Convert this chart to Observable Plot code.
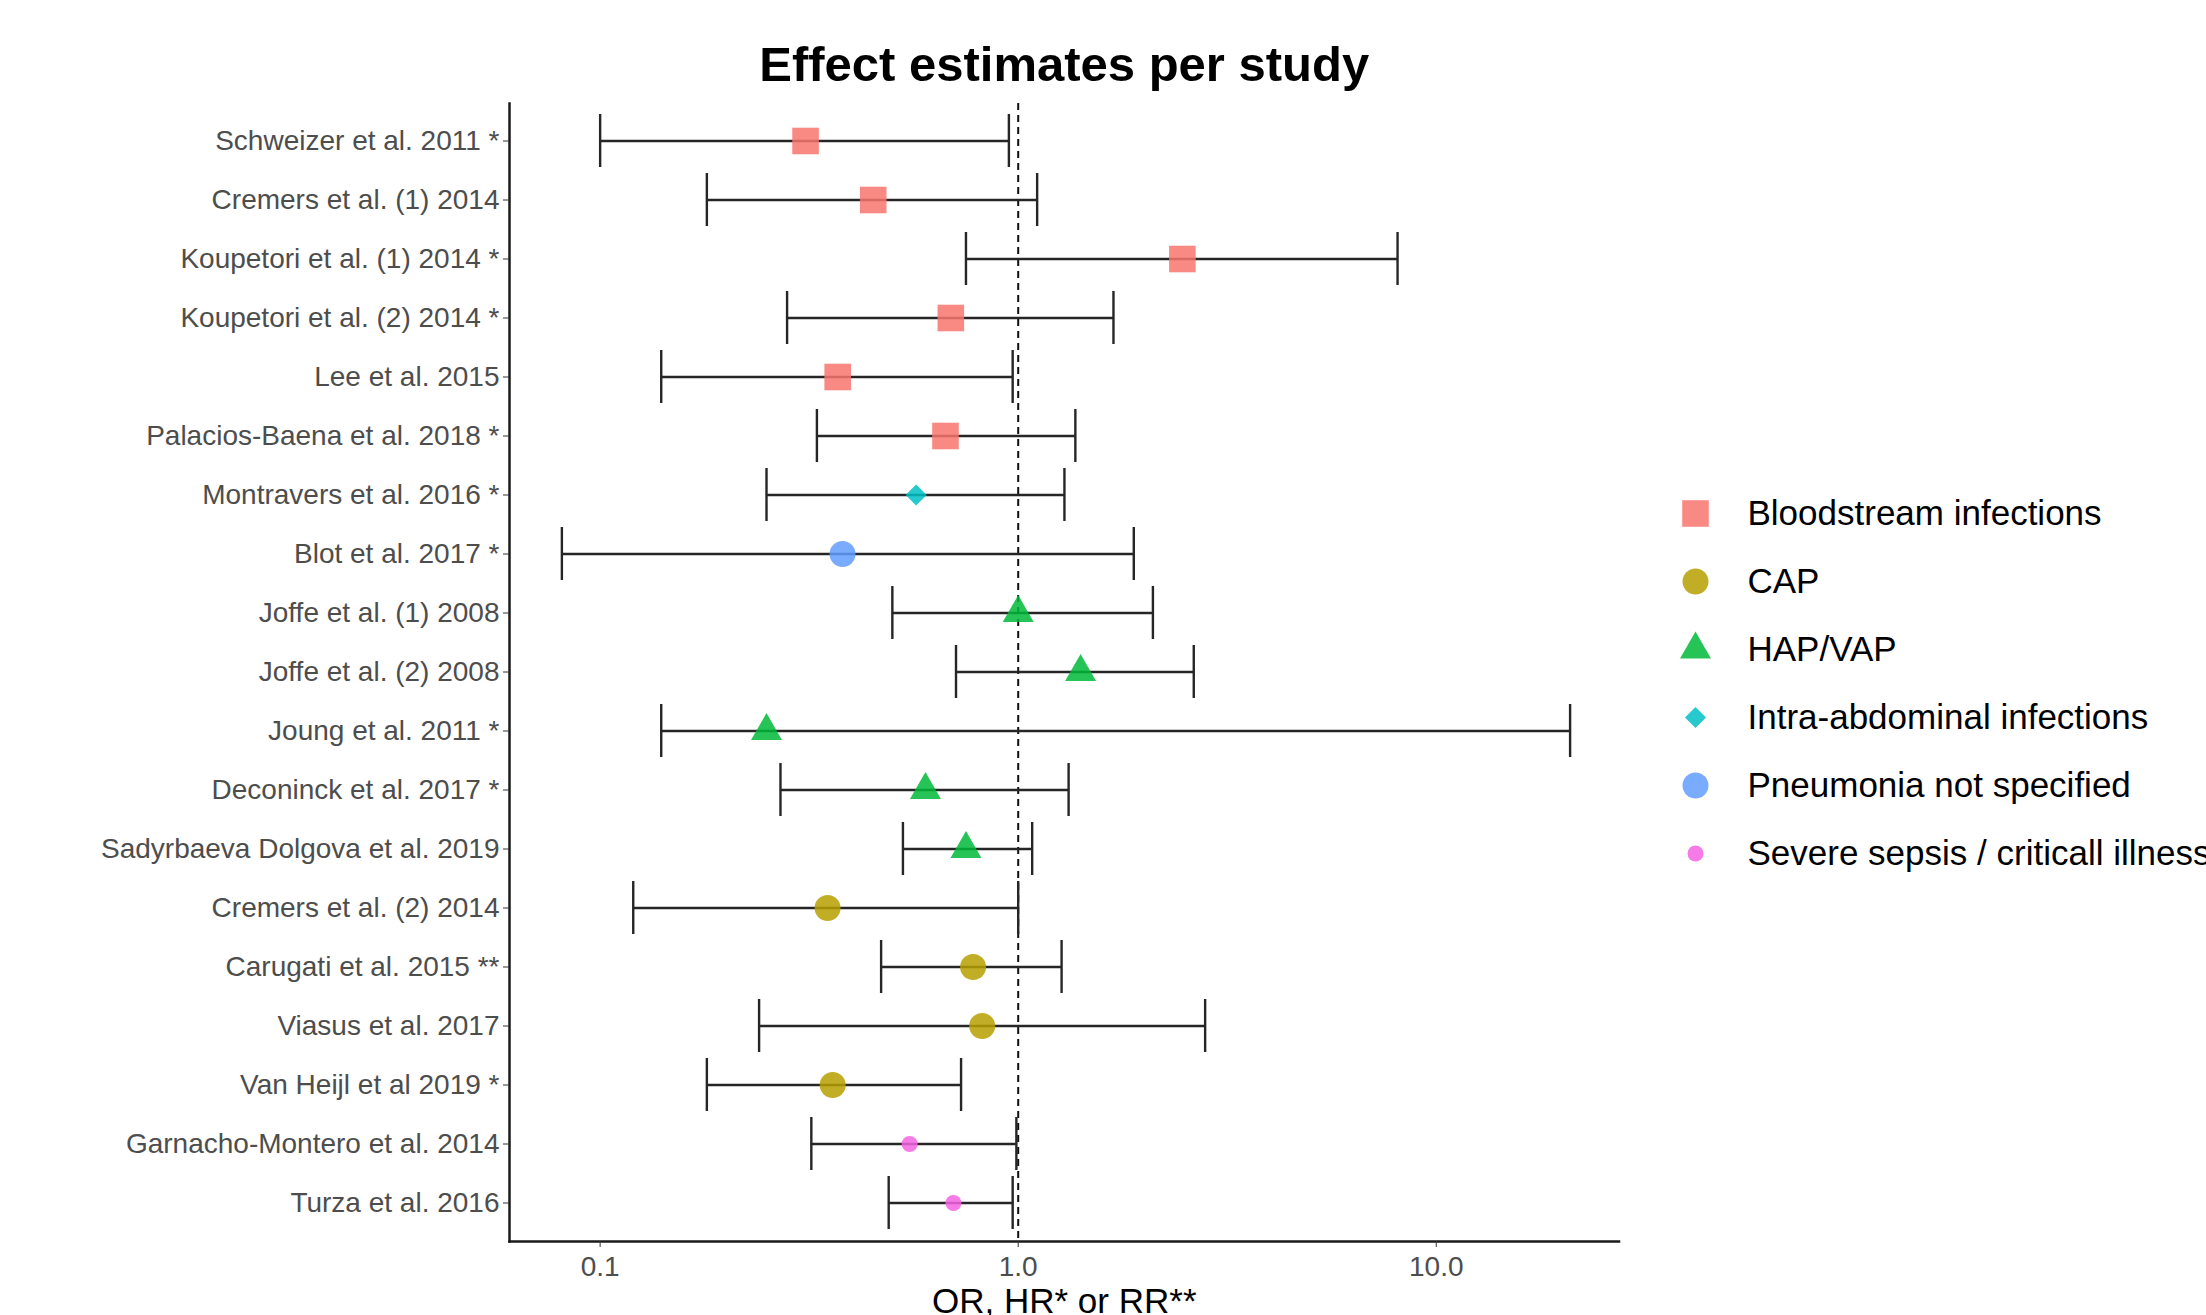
<!DOCTYPE html>
<html>
<head>
<meta charset="utf-8">
<script src="https://cdn.jsdelivr.net/npm/d3@7"></script>
<script src="https://cdn.jsdelivr.net/npm/@observablehq/plot@0.6"></script>
<style>
  html, body { margin: 0; padding: 0; background: #fff; overflow: hidden; }
  #wrap { position: relative; width: 2206px; height: 1315px; overflow: hidden; }
  #wrap svg { position: absolute; top: 0; max-width: none; }
</style>
</head>
<body>
<div id="wrap"></div>
<script>
// ---------- data ----------
const studies = [
  "Schweizer et al. 2011 *",
  "Cremers et al. (1) 2014",
  "Koupetori et al. (1) 2014 *",
  "Koupetori et al. (2) 2014 *",
  "Lee et al. 2015",
  "Palacios-Baena et al. 2018 *",
  "Montravers et al. 2016 *",
  "Blot et al. 2017 *",
  "Joffe et al. (1) 2008",
  "Joffe et al. (2) 2008",
  "Joung et al. 2011 *",
  "Deconinck et al. 2017 *",
  "Sadyrbaeva Dolgova et al. 2019",
  "Cremers et al. (2) 2014",
  "Carugati et al. 2015 **",
  "Viasus et al. 2017",
  "Van Heijl et al 2019 *",
  "Garnacho-Montero et al. 2014",
  "Turza et al. 2016"
];
const studyGroups = [
  "Bloodstream infections", "Bloodstream infections", "Bloodstream infections",
  "Bloodstream infections", "Bloodstream infections", "Bloodstream infections",
  "Intra-abdominal infections",
  "Pneumonia not specified",
  "HAP/VAP", "HAP/VAP", "HAP/VAP", "HAP/VAP", "HAP/VAP",
  "CAP", "CAP", "CAP", "CAP",
  "Severe sepsis / criticall illness", "Severe sepsis / criticall illness"
];
const estimates = [0.31, 0.45, 2.47, 0.69, 0.37, 0.67, 0.57, 0.38, 1.00, 1.41, 0.25, 0.60, 0.75, 0.35, 0.78, 0.82, 0.36, 0.55, 0.70];
const lowers    = [0.10, 0.18, 0.75, 0.28, 0.14, 0.33, 0.25, 0.081, 0.50, 0.71, 0.14, 0.27, 0.53, 0.12, 0.47, 0.24, 0.18, 0.32, 0.49];
const uppers    = [0.95, 1.11, 8.08, 1.69, 0.97, 1.37, 1.29, 1.89, 2.10, 2.63, 20.9, 1.32, 1.08, 1.00, 1.27, 2.80, 0.73, 0.99, 0.97];
const categories = [
  "Bloodstream infections", "CAP", "HAP/VAP",
  "Intra-abdominal infections", "Pneumonia not specified", "Severe sepsis / criticall illness"
];
const xTicks = [0.1, 1, 10];
const xTickLabels = ["0.1", "1.0", "10.0"];
const refLine = [1];
const xDomain = [0.0607, 27.36];
const titleText = "Effect estimates per study";
const xLabel = "OR, HR* or RR**";

// ---------- styles ----------
const catColors = ["#F8766D", "#B79F00", "#00BA38", "#00BFC4", "#619CFF", "#F564E3"];
const catSymbols = ["square", "circle", "triangle", "diamond2", "circle", "circle"];
const catRadius = [15, 13, 11.5, 9.5, 13, 8];
const radiusOf = Object.fromEntries(categories.map((c, i) => [c, catRadius[i]]));

const rows = studies.map((s, i) => ({
  study: s, group: studyGroups[i], est: estimates[i], lo: lowers[i], hi: uppers[i]
}));

const W = 2206, H = 1315;
const font = "'Liberation Sans', Arial, Helvetica, sans-serif";
const barColor = "#262626";
const axisColor = "#1a1a1a";

const main = Plot.plot({
  width: W, height: H,
  marginLeft: 509, marginRight: W - 1618.5, marginTop: 103, marginBottom: H - 1241,
  style: { fontFamily: font, background: "transparent" },
  x: { type: "log", domain: xDomain },
  y: { type: "band", domain: studies, paddingInner: 0.1, paddingOuter: 0.15 },
  color: { domain: categories, range: catColors },
  symbol: { domain: categories, range: catSymbols },
  r: { type: "identity" },
  marks: [
    Plot.frame({ anchor: "left", stroke: axisColor, strokeWidth: 2.5 }),
    Plot.frame({ anchor: "bottom", stroke: axisColor, strokeWidth: 2.5 }),
    Plot.ruleX(refLine, { stroke: "#111", strokeWidth: 2, strokeDasharray: "7,5" }),
    Plot.ruleY(rows, { y: "study", x1: "lo", x2: "hi", stroke: barColor, strokeWidth: 2.6 }),
    Plot.tickX(rows, { x: "lo", y: "study", stroke: barColor, strokeWidth: 2.4 }),
    Plot.tickX(rows, { x: "hi", y: "study", stroke: barColor, strokeWidth: 2.4 }),
    Plot.dot(rows, {
      x: "est", y: "study", symbol: "group", fill: "group",
      r: d => radiusOf[d.group], fillOpacity: 0.85, stroke: "none"
    }),
    Plot.axisX({
      ticks: xTicks, tickFormat: (d) => xTickLabels[xTicks.indexOf(d)],
      tickSize: 6, tickPadding: 9, fontSize: 28, fill: "#4d4d4d", stroke: "#333",
      label: null
    }),
    Plot.axisY({
      tickSize: 6, tickPadding: 4, fontSize: 28, fill: "#4d4d4d", stroke: "#333",
      label: null
    }),
    Plot.text([titleText], {
      frameAnchor: "top", dy: -57, fontSize: 49, fontWeight: "bold", fill: "#000"
    }),
    Plot.text([xLabel], {
      frameAnchor: "bottom", dy: 71, fontSize: 35, fill: "#000"
    })
  ]
});
main.style.left = "0px";
document.getElementById("wrap").appendChild(main);

// ---------- legend ----------
const legend = Plot.plot({
  width: W - 1650, height: H,
  marginLeft: 0, marginRight: 0, marginTop: 512, marginBottom: H - 854,
  style: { fontFamily: font, background: "transparent", overflow: "hidden" },
  y: { type: "point", domain: categories, padding: 0, axis: null },
  color: { domain: categories, range: catColors },
  symbol: { domain: categories, range: catSymbols },
  r: { type: "identity" },
  marks: [
    Plot.dot(categories, {
      y: d => d, frameAnchor: "left", dx: 45, symbol: d => d, fill: d => d,
      r: d => radiusOf[d], fillOpacity: 0.85, stroke: "none"
    }),
    Plot.text(categories, {
      y: d => d, frameAnchor: "left", dx: 97, text: d => d,
      textAnchor: "start", fontSize: 35, fill: "#000"
    })
  ]
});
legend.style.left = "1650px";
document.getElementById("wrap").appendChild(legend);
</script>
</body>
</html>
